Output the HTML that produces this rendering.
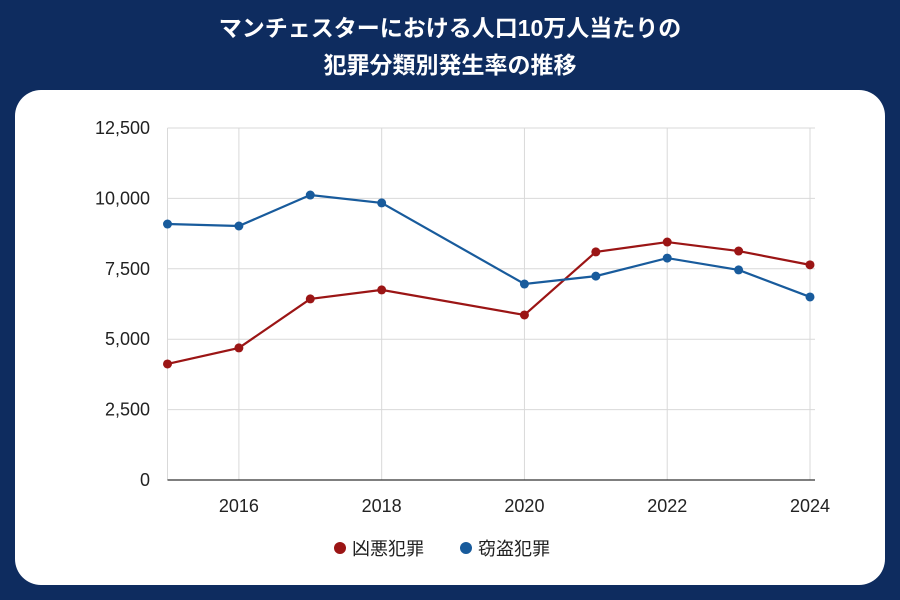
<!DOCTYPE html>
<html><head><meta charset="utf-8"><style>
html,body{margin:0;padding:0}
body{width:900px;height:600px;background:#0e2c5f;position:relative;overflow:hidden;font-family:"Liberation Sans","Noto Sans CJK JP",sans-serif}
.title{position:absolute;left:0;width:900px;text-align:center;color:#fff;font-weight:bold;font-size:23px;line-height:37px;top:10px}
.card{position:absolute;left:15px;top:90px;width:870px;height:495px;background:#fff;border-radius:26px}
svg{position:absolute;left:0;top:0}
</style></head><body>
<div class="title">マンチェスターにおける人口10万人当たりの<br>犯罪分類別発生率の推移</div>
<div class="card"></div>
<svg id="chart" width="900" height="600"></svg>
<script>
const years=[2015,2016,2017,2018,2020,2021,2022,2023,2024];
const violent=[4120,4690,6430,6750,5860,8100,8450,8130,7640];
const theft=[9090,9020,10120,9840,6960,7240,7880,7460,6500];
const yTicks=[0,2500,5000,7500,10000,12500];
const yTickLabels=["0","2,500","5,000","7,500","10,000","12,500"];
const xTicks=[2016,2018,2020,2022,2024];
const NS="http://www.w3.org/2000/svg";
const svg=document.getElementById('chart');
const x=v=>167.5+(v-2015)*(810-167.5)/9;
const y=v=>480-v*352/12500;
function mk(t,a){const e=document.createElementNS(NS,t);for(const k in a)e.setAttribute(k,a[k]);svg.appendChild(e);return e;}
yTicks.forEach((t,i)=>{
 if(t>0){const g=mk('line',{x1:167.5,x2:815,y1:y(t),y2:y(t),stroke:'#d9d9d9','stroke-width':1});
 }
 const l=mk('text',{x:150,y:y(t)+6,'text-anchor':'end','font-size':18,fill:'#222'});l.textContent=yTickLabels[i];
 
});
xTicks.forEach(t=>{
 const g=mk('line',{x1:x(t),x2:x(t),y1:128,y2:480,stroke:'#d9d9d9','stroke-width':1});
 
 const l=mk('text',{x:x(t),y:512,'text-anchor':'middle','font-size':18,fill:'#222'});l.textContent=t;
 
});
const lg=mk('line',{x1:167.5,x2:167.5,y1:128,y2:480,stroke:'#d9d9d9'});

const ax=mk('line',{x1:167.5,x2:815,y1:480,y2:480,stroke:'#333','stroke-width':1.2});

function series(vals,color,name){
 const p=mk('polyline',{points:years.map((yr,i)=>x(yr)+','+y(vals[i])).join(' '),fill:'none',stroke:color,'stroke-width':2.2});
 
 years.forEach((yr,i)=>{const c=mk('circle',{cx:x(yr),cy:y(vals[i]),r:4.5,fill:color});
 });
}
series(violent,'#9b1515','violent-crime');
series(theft,'#185b9c','theft-crime');
const d1=mk('circle',{cx:340,cy:548,r:6,fill:'#9b1515'});
const t1=mk('text',{x:352,y:555,'font-size':18,fill:'#222'});t1.textContent='凶悪犯罪';
const d2=mk('circle',{cx:466,cy:548,r:6,fill:'#185b9c'});
const t2=mk('text',{x:478,y:555,'font-size':18,fill:'#222'});t2.textContent='窃盗犯罪';
</script>
</body></html>
